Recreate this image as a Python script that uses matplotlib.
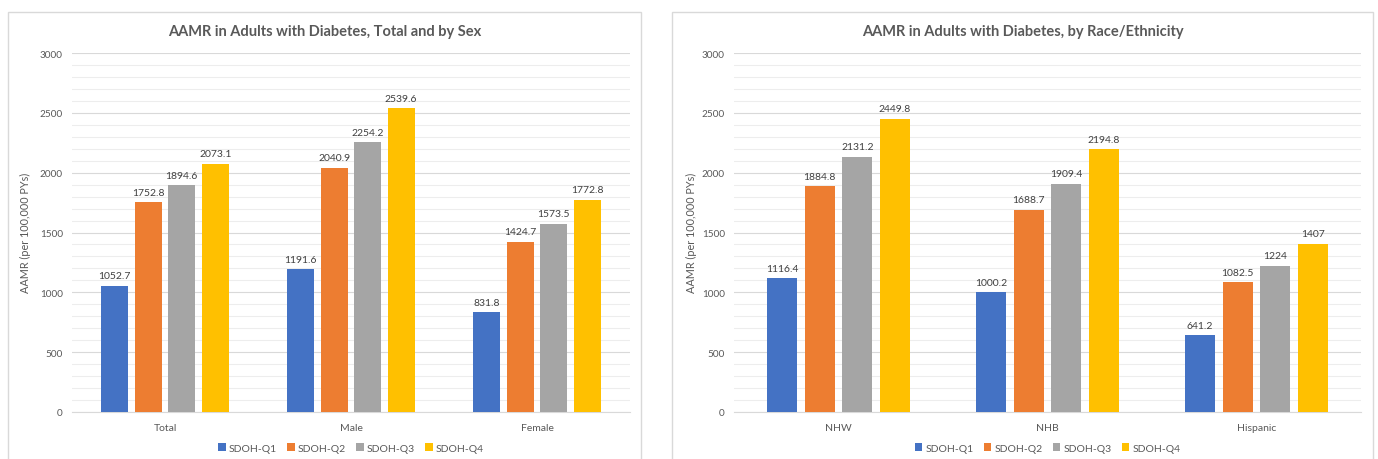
import numpy as np
import matplotlib.pyplot as plt
from matplotlib.patches import Rectangle

# series names and colours (Office palette)
quartiles = ['SDOH-Q1', 'SDOH-Q2', 'SDOH-Q3', 'SDOH-Q4']
colors = ['#4472C4', '#ED7D31', '#A5A5A5', '#FFC000']

# panel 1: total and by sex
sex_groups = ['Total', 'Male', 'Female']
sex_q1 = [1052.7, 1191.6, 831.8]
sex_q2 = [1752.8, 2040.9, 1424.7]
sex_q3 = [1894.6, 2254.2, 1573.5]
sex_q4 = [2073.1, 2539.6, 1772.8]

# panel 2: by race/ethnicity
race_groups = ['NHW', 'NHB', 'Hispanic']
race_q1 = [1116.4, 1000.2, 641.2]
race_q2 = [1884.8, 1688.7, 1082.5]
race_q3 = [2131.2, 1909.4, 1224]
race_q4 = [2449.8, 2194.8, 1407]

text_col = '#595959'
grid_col = '#D9D9D9'
minor_col = '#EDEDED'

plt.rcParams['font.family'] = ['Lato', 'DejaVu Sans']
plt.rcParams['font.size'] = 7.5

W, H = 1378, 460
fig = plt.figure(figsize=(W / 100, H / 100), dpi=100)


def px_box(x0, x1, ytop, ybot):
    return [x0 / W, 1 - ybot / H, (x1 - x0) / W, (ybot - ytop) / H]


def draw_panel(ax, groups, series, title, panel, ylab_x):
    x = np.arange(len(groups))
    step = 0.18
    width = 0.143
    for i, vals in enumerate(series):
        pos = x + (i - 1.5) * step
        bars = ax.bar(pos, vals, width, color=colors[i], label=quartiles[i], zorder=3)
        for b, v in zip(bars, vals):
            ax.annotate(f'{v:g}', (b.get_x() + b.get_width() / 2, v),
                        xytext=(0, 4), textcoords='offset points',
                        ha='center', va='bottom', color='#404040', fontsize=7.5)

    ax.set_xlim(-0.5, len(groups) - 0.5)
    ax.set_ylim(0, 3000)
    ax.set_yticks(range(0, 3001, 500))
    ax.set_yticks(range(0, 3001, 100), minor=True)
    ax.grid(axis='y', which='major', color=grid_col, lw=0.8, zorder=0)
    ax.grid(axis='y', which='minor', color=minor_col, lw=0.8, zorder=0)
    ax.set_xticks(x)
    ax.set_xticklabels(groups)
    ax.tick_params(axis='both', which='both', length=0, colors=text_col, labelsize=7.5)
    ax.tick_params(axis='y', labelsize=7.2, pad=6.5)
    ax.tick_params(axis='x', pad=8)
    for s in ['top', 'right', 'left']:
        ax.spines[s].set_visible(False)
    ax.spines['bottom'].set_color(grid_col)

    # chart frame and title
    x0, x1, y0, y1 = panel
    fig.patches.append(Rectangle((x0 / W, 1 - y1 / H), (x1 - x0) / W, (y1 - y0) / H,
                                 transform=fig.transFigure, fill=False,
                                 edgecolor='#D9D9D9', lw=1))
    fig.text((x0 + x1) / 2 / W, 1 - 32 / H, title, ha='center', va='center',
             fontsize=10.5, fontweight='bold', color=text_col)
    fig.text(ylab_x / W, 1 - 233 / H, 'AAMR (per 100,000 PYs)', rotation=90,
             ha='center', va='center', color=text_col, fontsize=7.8)

    leg = ax.legend(loc='center', bbox_to_anchor=(0.5, -0.1), ncol=4, frameon=False,
                    handlelength=0.7, handleheight=0.7, handletextpad=0.3,
                    columnspacing=1.0, fontsize=7.5)
    for t in leg.get_texts():
        t.set_color(text_col)


ax1 = fig.add_axes(px_box(72, 630, 54, 413))
draw_panel(ax1, sex_groups, [sex_q1, sex_q2, sex_q3, sex_q4],
           'AAMR in Adults with Diabetes, Total and by Sex', (8, 641, 13, 470), 25)

ax2 = fig.add_axes(px_box(734, 1361, 54, 413))
draw_panel(ax2, race_groups, [race_q1, race_q2, race_q3, race_q4],
           'AAMR in Adults with Diabetes, by Race/Ethnicity', (672, 1373, 13, 470), 691)

fig.savefig('out.png', dpi=100)
